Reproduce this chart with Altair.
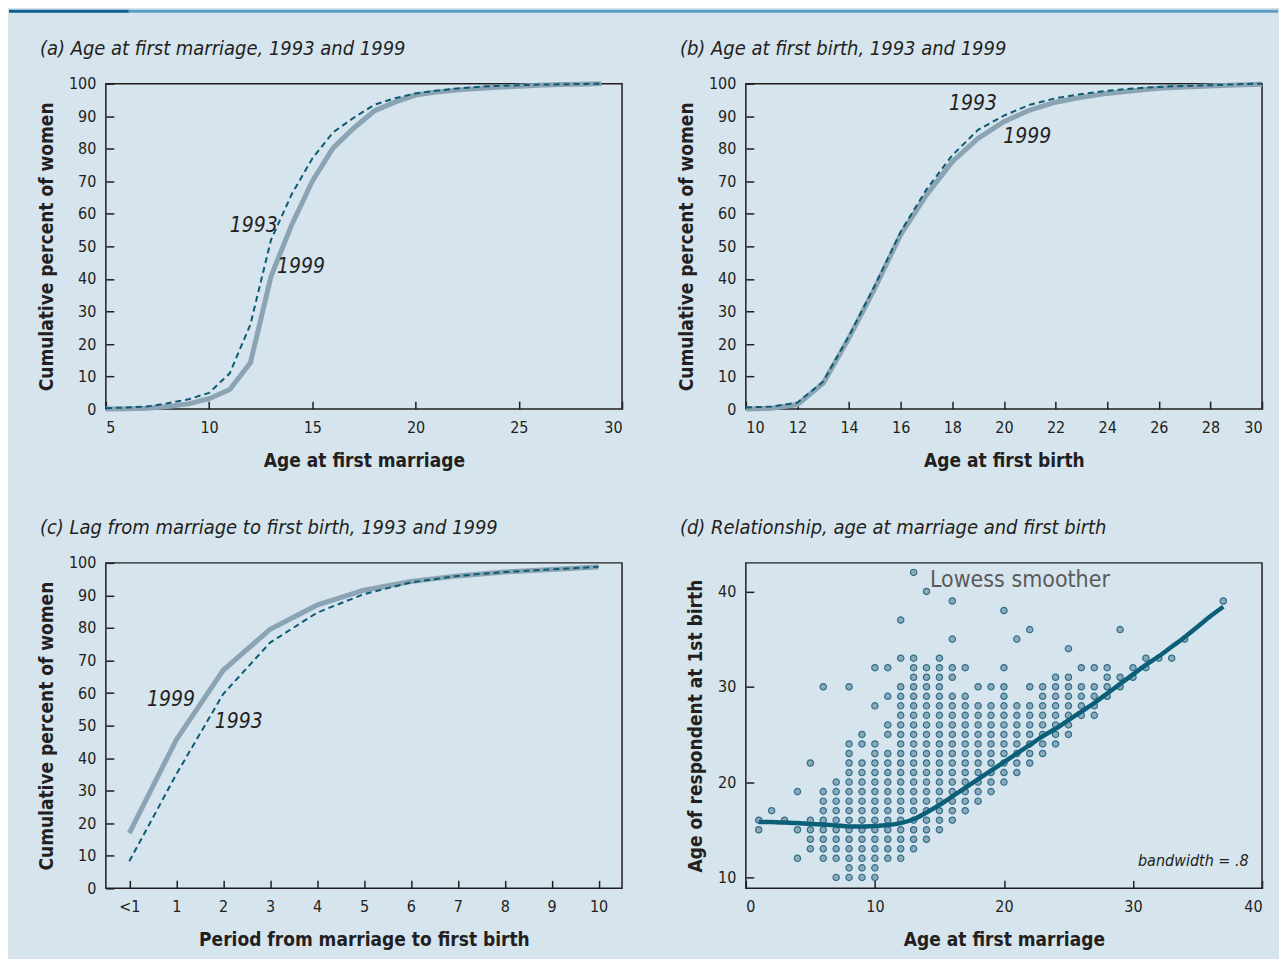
import altair as alt
import pandas as pd

FONT = "'Liberation Sans Narrow', 'DejaVu Sans Condensed', Roboto, sans-serif"
BG = "#D6E4EE"
INK = "#231F20"
SOLID = "#8BA4B4"
DASH = "#0D5B73"
PT_FILL = "#8EAABA"
PT_STROKE = "#2F6F8A"
LOWESS = "#0B5F78"
BAND_DARK = "#0B5E8E"
BAND_LIGHT = "#5E9CC6"

# ---------------- (a) Age at first marriage ----------------
a_age = [5, 6, 7, 8, 9, 10, 11, 12, 13, 14, 15, 16, 17, 18, 19, 20, 21, 22, 23, 24, 25, 26, 27, 28, 29]
a_1999 = [0, 0.1, 0.3, 0.8, 1.6, 3.2, 6, 14.2, 40.8, 56.6, 70, 80.2, 86.3, 91.6, 94.3, 96.5, 97.4, 98, 98.5, 98.9, 99.2, 99.5, 99.7, 99.8, 100]
a_1993 = [0.3, 0.5, 0.8, 1.8, 3, 5, 11, 26, 52, 66, 77, 85, 89.5, 93.5, 95.5, 97, 97.8, 98.5, 99, 99.3, 99.5, 99.7, 99.8, 99.9, 100]
a_ann_text = ["1993", "1999"]
a_ann_x = [12.16, 14.45]
a_ann_y = [56.4, 43.6]

# ---------------- (b) Age at first birth ----------------
b_age = [10, 11, 12, 13, 14, 15, 16, 17, 18, 19, 20, 21, 22, 23, 24, 25, 26, 27, 28, 29, 30]
b_1999 = [0, 0.3, 1.4, 8, 21.9, 37.2, 53.6, 65.8, 76, 83.2, 88.3, 91.9, 94.3, 95.8, 97, 97.8, 98.6, 99, 99.3, 99.6, 99.8]
b_1993 = [0.5, 0.8, 2, 8.5, 22.5, 38, 54.5, 67.5, 78, 85.8, 90.2, 93.5, 95.5, 96.8, 97.8, 98.5, 99, 99.3, 99.5, 99.8, 100]
b_ann_text = ["1993", "1999"]
b_ann_x = [18.8, 20.9]
b_ann_y = [93.7, 83.7]

# ---------------- (c) Lag from marriage to first birth ----------------
c_lag = [0, 1, 2, 3, 4, 5, 6, 7, 8, 9, 10]
c_lag_labels = ["<1", "1", "2", "3", "4", "5", "6", "7", "8", "9", "10"]
c_1999 = [17, 45.6, 67, 79.6, 87, 91.6, 94.3, 96, 97.2, 98, 98.7]
c_1993 = [8.3, 35, 59.7, 75.5, 84.7, 90.4, 94, 96, 97.2, 98, 98.8]
c_ann_text = ["1999", "1993"]
c_ann_x = [0.89, 2.33]
c_ann_y = [58, 51]

# ---------------- (d) scatter: age at marriage -> ages at first birth observed ----------------
d_columns = {
    1: [15, 16],
    2: [17],
    3: [16],
    4: [12, 15, 19],
    5: [13, 14, 15, 16, 22],
    6: [12, 13, 14, 15, 16, 17, 18, 19, 30],
    7: [10, 12, 13, 14, 15, 16, 17, 18, 19, 20],
    8: [10, 11, 12, 13, 14, 15, 16, 17, 18, 19, 20, 21, 22, 23, 24, 30],
    9: [10, 11, 12, 13, 14, 15, 16, 17, 18, 19, 20, 21, 22, 24, 25],
    10: [10, 11, 12, 13, 14, 15, 16, 17, 18, 19, 20, 21, 22, 23, 24, 28, 32],
    11: [12, 13, 14, 15, 16, 17, 18, 19, 20, 21, 22, 23, 25, 26, 29, 32],
    12: [12, 13, 14, 15, 16, 17, 18, 19, 20, 21, 22, 23, 24, 25, 26, 27, 28, 29, 30, 33, 37],
    13: [13, 14, 15, 16, 17, 18, 19, 20, 21, 22, 23, 24, 25, 26, 27, 28, 29, 30, 31, 32, 33, 42],
    14: [14, 15, 16, 17, 18, 19, 20, 21, 22, 23, 24, 25, 26, 27, 28, 29, 30, 31, 32, 40],
    15: [15, 16, 17, 18, 19, 20, 21, 22, 23, 24, 25, 26, 27, 28, 29, 30, 31, 32, 33],
    16: [16, 17, 18, 19, 20, 21, 22, 23, 24, 25, 26, 27, 28, 29, 31, 32, 35, 39],
    17: [17, 18, 19, 20, 21, 22, 23, 24, 25, 26, 27, 28, 29, 32],
    18: [18, 19, 20, 21, 22, 23, 24, 25, 26, 27, 28, 30],
    19: [19, 20, 21, 22, 23, 24, 25, 26, 27, 28, 30],
    20: [20, 21, 22, 23, 24, 25, 26, 27, 28, 29, 30, 32, 38],
    21: [21, 22, 23, 24, 25, 26, 27, 28, 35],
    22: [22, 23, 24, 25, 26, 27, 28, 30, 36],
    23: [23, 24, 25, 26, 27, 28, 29, 30],
    24: [24, 25, 26, 27, 28, 29, 30, 31],
    25: [25, 26, 27, 28, 29, 30, 31, 34],
    26: [27, 28, 29, 30, 32],
    27: [27, 28, 29, 30, 32],
    28: [29, 30, 31, 32],
    29: [30, 31, 36],
    30: [31, 32],
    31: [32, 33],
    32: [33],
    33: [33],
    34: [35],
    37: [39],
}
lowess_x = [1, 2, 3, 4, 5, 6, 7, 8, 9, 10, 11, 12, 13, 14, 15, 16, 17, 18, 19, 20, 21, 22, 23, 24, 25,
            26, 27, 28, 29, 30, 31, 32, 33, 34, 35, 36, 37]
lowess_y = [15.8, 15.8, 15.75, 15.7, 15.6, 15.55, 15.45, 15.35, 15.35, 15.4, 15.5, 15.7, 16.1, 16.8,
            17.6, 18.5, 19.4, 20.3, 21.2, 22.1, 23.0, 23.9, 24.8, 25.6, 26.5, 27.4, 28.3, 29.3, 30.3,
            31.3, 32.3, 33.2, 34.2, 35.2, 36.3, 37.4, 38.4]
d_ann_text = ["Lowess smoother"]
d_ann_x = [14.27]
d_ann_y = [41.2]
d_bw_text = ["bandwidth = .8"]
d_bw_x = [38.96]
d_bw_y = [11.7]

titles = [
    "(a) Age at first marriage, 1993 and 1999",
    "(b) Age at first birth, 1993 and 1999",
    "(c) Lag from marriage to first birth, 1993 and 1999",
    "(d) Relationship, age at marriage and first birth",
]

W, H = 517, 326
TICK_IN = 8
ONE = pd.DataFrame({"k": [0]})


def main_axis(values, title, label_expr=None):
    kw = dict(values=values, title=title, ticks=False, tickSize=0, domain=False,
              labelPadding=10, grid=False)
    if label_expr:
        kw["labelExpr"] = label_expr
    return alt.Axis(**kw)


def inner_axis(values, orient):
    return alt.Axis(values=values, title="", labels=False, domain=False, ticks=True,
                    tickSize=TICK_IN, offset=-TICK_IN, orient=orient, grid=False,
                    tickColor=INK, tickWidth=1.5)


def panel_title(text):
    # panel heading placed just above the plot frame, left of the y-axis title
    return alt.Chart(ONE).mark_text(font=FONT, fontStyle="italic", fontSize=20, color=INK,
                                    align="left", baseline="middle").encode(
        x=alt.value(-66), y=alt.value(-35), text=alt.value(text))


def top_band():
    dark = alt.Chart(ONE).mark_rect(color=BAND_DARK).encode(
        x=alt.value(-97), x2=alt.value(23), y=alt.value(-74), y2=alt.value(-71))
    light = alt.Chart(ONE).mark_rect(color=BAND_LIGHT).encode(
        x=alt.value(23), x2=alt.value(1174), y=alt.value(-74), y2=alt.value(-71))
    return [dark, light]


def cdf_panel(xs, y99, y93, xdomain, xticks, xtitle, title, ann_t, ann_x, ann_y,
              label_expr=None, extra=None):
    df99 = pd.DataFrame({"x": xs, "pct": y99})
    df93 = pd.DataFrame({"x": xs, "pct": y93})
    dfa = pd.DataFrame({"x": ann_x, "pct": ann_y, "t": ann_t})
    xs_scale = alt.Scale(domain=xdomain, nice=False, zero=False)
    ys_scale = alt.Scale(domain=[0, 100], nice=False)
    yticks = [0, 10, 20, 30, 40, 50, 60, 70, 80, 90, 100]
    solid = alt.Chart(df99).mark_line(color=SOLID, strokeWidth=5).encode(
        x=alt.X("x:Q", scale=xs_scale, axis=main_axis(xticks, xtitle, label_expr)),
        y=alt.Y("pct:Q", scale=ys_scale, axis=main_axis(yticks, "Cumulative percent of women")),
    )
    dashed = alt.Chart(df93).mark_line(color=DASH, strokeWidth=2, strokeDash=[6, 4]).encode(
        x=alt.X("x:Q", scale=xs_scale, axis=inner_axis(xticks, "bottom")),
        y=alt.Y("pct:Q", scale=ys_scale, axis=inner_axis(yticks, "left")),
    )
    ann = alt.Chart(dfa).mark_text(font=FONT, fontStyle="italic", fontSize=21, color=INK,
                                   align="center", baseline="middle").encode(
        x=alt.X("x:Q", scale=xs_scale, axis=None),
        y=alt.Y("pct:Q", scale=ys_scale, axis=None),
        text="t:N",
    )
    layers = [solid, dashed, ann, panel_title(title)] + (extra or [])
    return alt.layer(*layers).resolve_axis(x="independent", y="independent").properties(
        width=W, height=H)


pa = cdf_panel(a_age, a_1999, a_1993, [5, 30], [5, 10, 15, 20, 25, 30], "Age at first marriage",
               titles[0], a_ann_text, a_ann_x, a_ann_y, extra=top_band())
pb = cdf_panel(b_age, b_1999, b_1993, [10, 30], [10, 12, 14, 16, 18, 20, 22, 24, 26, 28, 30],
               "Age at first birth", titles[1], b_ann_text, b_ann_x, b_ann_y)
pc = cdf_panel(c_lag, c_1999, c_1993, [-0.5, 10.5], c_lag, "Period from marriage to first birth",
               titles[2], c_ann_text, c_ann_x, c_ann_y,
               label_expr="datum.value == 0 ? '<1' : datum.label")

# scatter panel
rows = []
for m, births in d_columns.items():
    for b in births:
        rows.append({"m": m, "b": b})
df_pts = pd.DataFrame(rows)
df_low = pd.DataFrame({"m": lowess_x, "b": lowess_y})
df_dann = pd.DataFrame({"m": d_ann_x, "b": d_ann_y, "t": d_ann_text})
df_bw = pd.DataFrame({"m": d_bw_x, "b": d_bw_y, "t": d_bw_text})
dx = alt.Scale(domain=[0, 40], nice=False, zero=False)
dy = alt.Scale(domain=[8.85, 43], nice=False, zero=False)
dxt = [0, 10, 20, 30, 40]
dyt = [10, 20, 30, 40]

pts = alt.Chart(df_pts).mark_point(shape="circle", filled=True, fill=PT_FILL, stroke=PT_STROKE,
                                   strokeWidth=1.2, size=40, opacity=1).encode(
    x=alt.X("m:Q", scale=dx, axis=main_axis(dxt, "Age at first marriage")),
    y=alt.Y("b:Q", scale=dy, axis=main_axis(dyt, "Age of respondent at 1st birth")),
)
low = alt.Chart(df_low).mark_line(color=LOWESS, strokeWidth=4.5, interpolate="monotone").encode(
    x=alt.X("m:Q", scale=dx, axis=inner_axis(dxt, "bottom")),
    y=alt.Y("b:Q", scale=dy, axis=inner_axis(dyt, "left")),
)
dann = alt.Chart(df_dann).mark_text(font=FONT, fontSize=23, color="#5A5A5A", align="left",
                                    baseline="middle").encode(
    x=alt.X("m:Q", scale=dx, axis=None), y=alt.Y("b:Q", scale=dy, axis=None), text="t:N")
bw = alt.Chart(df_bw).mark_text(font=FONT, fontSize=16, fontStyle="italic", color=INK,
                                align="right", baseline="middle").encode(
    x=alt.X("m:Q", scale=dx, axis=None), y=alt.Y("b:Q", scale=dy, axis=None), text="t:N")
pd_ = alt.layer(pts, low, dann, bw, panel_title(titles[3])).resolve_axis(
    x="independent", y="independent").properties(width=W, height=H)

chart = alt.concat(pa, pb, pc, pd_, columns=2, spacing={"row": 154, "column": 124},
                   bounds="flush").properties(
    background=BG,
    padding={"left": 0, "top": 0, "right": 0, "bottom": 8},
).configure_view(stroke=INK, strokeWidth=1.5).configure_axis(
    labelFont=FONT, labelFontSize=16, labelColor=INK,
    titleFont=FONT, titleFontSize=19, titleFontWeight="bold", titleColor=INK,
).configure_axisX(titlePadding=16).configure_axisY(titlePadding=12)

chart.save("out.html", embed_options={"renderer": "svg", "actions": False})
